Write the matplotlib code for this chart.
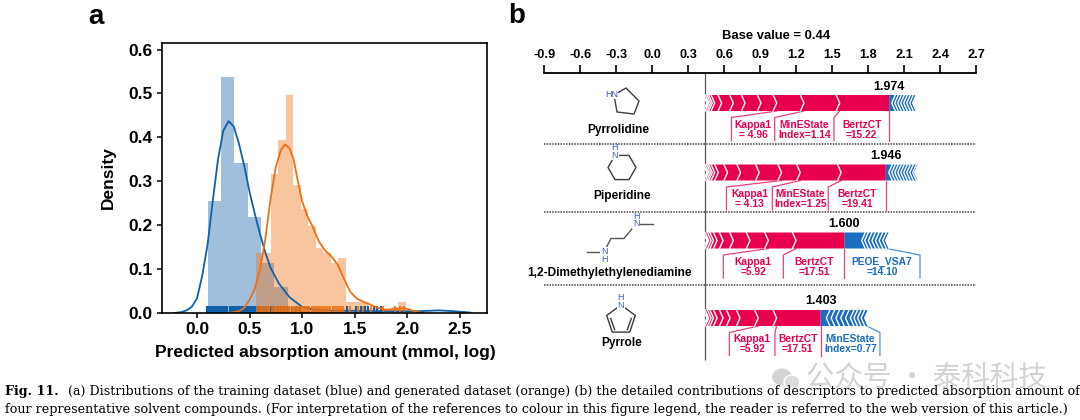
import matplotlib
matplotlib.use("Agg")
import matplotlib.pyplot as plt
from matplotlib.patches import Polygon, Ellipse

plt.rcParams["font.family"] = ["Liberation Sans", "DejaVu Sans"]
plt.rcParams["axes.unicode_minus"] = False

# ---------------- panel a data ----------------
blue_bin_start = 0.102
blue_bin_width = 0.127
blue_hist = [0.255, 0.537, 0.341, 0.218, 0.113, 0.060, 0.014, 0.005,
             0.004, 0.003, 0.003, 0.003, 0.003]

orange_bin_start = 0.557
orange_bin_width = 0.0716
orange_hist = [0.136, 0.136, 0.317, 0.394, 0.497, 0.292, 0.237, 0.198,
               0.147, 0.136, 0.114, 0.126, 0.026, 0.026, 0.026, 0.012,
               0.012, 0.008, 0.014, 0.026]

blue_kde_x = [-0.22, -0.15, -0.10, -0.05, 0.0, 0.05, 0.10, 0.15, 0.20, 0.25,
              0.30, 0.35, 0.40, 0.45, 0.50, 0.55, 0.60, 0.65, 0.70, 0.78,
              0.88, 1.00, 1.10, 1.30, 1.50, 1.70, 1.90, 2.10, 2.30, 2.45, 2.60]
blue_kde_y = [0.0, 0.002, 0.006, 0.014, 0.033, 0.085, 0.155, 0.255, 0.35, 0.415,
              0.437, 0.425, 0.385, 0.335, 0.276, 0.226, 0.18, 0.138, 0.103, 0.067,
              0.036, 0.014, 0.008, 0.005, 0.005, 0.004, 0.004, 0.004, 0.006, 0.004, 0.001]

orange_kde_x = [0.30, 0.40, 0.45, 0.50, 0.55, 0.60, 0.65, 0.70, 0.75, 0.80,
                0.84, 0.88, 0.92, 0.96, 1.00, 1.05, 1.10, 1.16, 1.22, 1.28,
                1.34, 1.40, 1.46, 1.52, 1.58, 1.65, 1.72, 1.78, 1.85, 1.92,
                1.97, 2.03, 2.10, 2.16]
orange_kde_y = [0.0, 0.004, 0.012, 0.03, 0.055, 0.10, 0.168, 0.26, 0.333, 0.372,
                0.384, 0.375, 0.35, 0.30, 0.255, 0.221, 0.197, 0.163, 0.142, 0.129,
                0.11, 0.077, 0.048, 0.033, 0.026, 0.019, 0.012, 0.008, 0.008, 0.010,
                0.011, 0.007, 0.002, 0.0]

blue_rug = [0.10, 0.11, 0.13, 0.14, 0.16, 0.17, 0.19, 0.20, 0.22, 0.23, 0.25,
            0.26, 0.28, 0.29, 0.31, 0.32, 0.34, 0.35, 0.37, 0.38, 0.40, 0.41,
            0.43, 0.44, 0.46, 0.47, 0.49, 0.50, 0.52, 0.53, 0.55, 0.56, 0.58,
            0.60, 0.62, 0.64, 0.66, 0.68, 0.70, 0.72, 0.74, 0.77, 0.80, 0.83,
            0.86, 0.90, 0.94, 0.98, 1.43, 1.51, 1.56, 1.60, 1.63, 1.68, 1.71, 1.75]
orange_rug = [0.57, 0.59, 0.61, 0.62, 0.64, 0.66, 0.68, 0.69, 0.71, 0.73, 0.74,
              0.76, 0.78, 0.79, 0.81, 0.82, 0.84, 0.85, 0.87, 0.88, 0.90, 0.91,
              0.93, 0.95, 0.97, 0.99, 1.01, 1.03, 1.05, 1.07, 1.09, 1.11, 1.13,
              1.15, 1.17, 1.19, 1.21, 1.23, 1.25, 1.27, 1.29, 1.31, 1.33, 1.35,
              1.37, 1.39, 1.46, 1.53, 1.58, 1.66, 1.77, 1.88, 1.93, 1.97]

# ---------------- panel b data ----------------
base_value = 0.44
compounds = ["Pyrrolidine", "Piperidine", "1,2-Dimethylethylenediamine", "Pyrrole"]
outputs = [1.974, 1.946, 1.600, 1.403]
blue_end = [2.197, 2.21, 1.975, 1.80]
red_bounds = [
    [0.455, 0.47, 0.485, 0.50, 0.52, 0.578, 0.675, 0.773, 0.906, 1.037, 1.264, 1.562],
    [0.455, 0.47, 0.485, 0.50, 0.52, 0.55, 0.627, 0.736, 0.891, 1.077, 1.233, 1.574],
    [0.455, 0.47, 0.49, 0.51, 0.54, 0.59, 0.675, 0.814, 0.967, 1.198],
    [0.455, 0.47, 0.49, 0.51, 0.54, 0.59, 0.648, 0.731, 0.883, 1.036],
]
blue_bounds = [
    [1.995, 2.02, 2.045, 2.07, 2.095, 2.12, 2.145, 2.17],
    [1.97, 1.995, 2.02, 2.045, 2.07, 2.095, 2.12, 2.145, 2.17],
    [1.745, 1.77, 1.80, 1.83, 1.86, 1.89, 1.92, 1.945],
    [1.45, 1.49, 1.53, 1.57, 1.61, 1.65, 1.68, 1.71, 1.74, 1.77],
]
box_edges = [
    [0.66, 1.02, 1.514, 1.974],
    [0.618, 1.0, 1.466, 1.946],
    [0.592, 1.092, 1.600, 2.231],
    [0.642, 1.022, 1.403, 1.897],
]
bar_links = [
    [1.037, 1.264, 1.562, 1.974],
    [1.077, 1.233, 1.574, 1.946],
    [0.967, 1.198, 1.600, 1.953],
    [0.883, 1.036, 1.403, 1.787],
]
feature_labels = [
    ["Kappa1\n= 4.96", "MinEState\nIndex=1.14", "BertzCT\n=15.22"],
    ["Kappa1\n= 4.13", "MinEState\nIndex=1.25", "BertzCT\n=19.41"],
    ["Kappa1\n=5.92", "BertzCT\n=17.51", "PEOE_VSA7\n=14.10"],
    ["Kappa1\n=5.92", "BertzCT\n=17.51", "MinEState\nIndex=0.77"],
]
feature_signs = [["+", "+", "+"], ["+", "+", "+"], ["+", "+", "-"], ["+", "+", "-"]]
scale_ticks = [-0.9, -0.6, -0.3, 0.0, 0.3, 0.6, 0.9, 1.2, 1.5, 1.8, 2.1, 2.4, 2.7]

BLUE = "#1060a8"
ORANGE = "#f07010"
RED_B = "#e8004e"
BLUE_B = "#1a6dc0"

fig = plt.figure(figsize=(10.8, 4.2), dpi=100)

# ================= panel a =================
ax = fig.add_axes([162 / 1080, 107 / 420, 325 / 1080, 270 / 420])
blue_left = [blue_bin_start + i * blue_bin_width for i in range(len(blue_hist))]
orange_left = [orange_bin_start + i * orange_bin_width for i in range(len(orange_hist))]

ax.bar(blue_left, blue_hist, width=blue_bin_width, align="edge", color=BLUE, alpha=0.4, linewidth=0)
ax.plot(blue_kde_x, blue_kde_y, color=BLUE, lw=1.3)
ax.vlines(blue_rug, 0, 0.016, color=BLUE, lw=1.5)
ax.bar(orange_left, orange_hist, width=orange_bin_width, align="edge", color=ORANGE, alpha=0.4, linewidth=0)
ax.plot(orange_kde_x, orange_kde_y, color=ORANGE, lw=1.3)
ax.vlines(orange_rug, 0, 0.016, color=ORANGE, lw=1.2)

ax.set_xlim(-0.333, 2.76)
ax.set_ylim(0, 0.615)
ax.set_xticks([0.0, 0.5, 1.0, 1.5, 2.0, 2.5])
ax.set_xticklabels(["0.0", "0.5", "1.0", "1.5", "2.0", "2.5"])
ax.set_yticks([0.0, 0.1, 0.2, 0.3, 0.4, 0.5, 0.6])
ax.set_yticklabels(["0.0", "0.1", "0.2", "0.3", "0.4", "0.5", "0.6"])
ax.tick_params(labelsize=12.5, width=1.1, length=3.5, pad=3)
for lbl in ax.get_xticklabels() + ax.get_yticklabels():
    lbl.set_fontweight("bold")
for sp in ax.spines.values():
    sp.set_linewidth(1.2)
ax.set_xlabel("Predicted absorption amount (mmol, log)", fontsize=12.5, fontweight="bold")
ax.set_ylabel("Density", fontsize=12.5, fontweight="bold")
ax.xaxis.set_label_coords(0.5015, -0.118)
ax.yaxis.set_label_coords(-0.143, 0.5)

# ================= panel b =================
axb = fig.add_axes([505 / 1080, 55 / 420, 575 / 1080, 365 / 420])
axb.set_xlim((505 - 652.3) / 120, (1080 - 652.3) / 120)
axb.set_ylim(365, 0)
axb.patch.set_alpha(0)
for side in ["left", "right", "bottom"]:
    axb.spines[side].set_visible(False)
axb.spines["top"].set_position(("data", 73.3))
axb.spines["top"].set_bounds(-0.9, 2.7)
axb.spines["top"].set_linewidth(1.3)
axb.xaxis.tick_top()
axb.set_xticks(scale_ticks)
axb.set_xticklabels(["%.1f" % t for t in scale_ticks])
axb.tick_params(axis="x", direction="out", length=6, width=1.2, pad=2.5, labelsize=9.2)
for lbl in axb.get_xticklabels():
    lbl.set_fontweight("bold")
axb.set_yticks([])
axb.text(1.03, 36, "Base value = %.2f" % base_value, ha="center", va="center",
         fontsize=9.4, fontweight="bold")

axb.vlines(base_value, 73.3, 360, color="#555555", lw=0.9, zorder=1)
for ysep in [144, 211.5, 285]:
    axb.plot([-0.9, 2.7], [ysep, ysep], color="#444444", lw=1.1, ls=(0, (1, 0.8)), zorder=1)

bar_top = [95, 164.5, 232.5, 310]
bar_h = 16
w = 0.03
for i in range(len(compounds)):
    yt = bar_top[i]
    yb = yt + bar_h
    ym = (yt + yb) / 2
    o = outputs[i]
    e = blue_end[i]
    axb.add_patch(Polygon([(base_value, yt), (o, yt), (o, yb), (base_value, yb), (base_value + w, ym)],
                          closed=True, fc=RED_B, ec="none", zorder=3))
    axb.add_patch(Polygon([(o, yt), (e, yt), (e - w, ym), (e, yb), (o, yb)],
                          closed=True, fc=BLUE_B, ec="none", zorder=3))
    for b in red_bounds[i]:
        axb.plot([b - w, b, b - w], [yt, ym, yb], color="white", lw=1.0, zorder=4)
    for b in blue_bounds[i]:
        axb.plot([b + w, b, b + w], [yt, ym, yb], color="white", lw=1.0, zorder=4)
    axb.text(o, yt - 8.5, "%.3f" % o, ha="center", va="center", fontsize=9, fontweight="bold")

    box_t = yb + 6.5
    box_b = box_t + 23
    for k in range(len(box_edges[i])):
        if k < 3:
            lc = RED_B
        else:
            lc = BLUE_B if feature_signs[i][2] == "-" else RED_B
        axb.plot([bar_links[i][k], box_edges[i][k], box_edges[i][k]], [yb, box_t, box_b],
                 color=lc, lw=0.9, alpha=0.75, zorder=2)
    for j, lab in enumerate(feature_labels[i]):
        tc = RED_B if feature_signs[i][j] == "+" else BLUE_B
        xc = (box_edges[i][j] + box_edges[i][j + 1]) / 2
        axb.text(xc, box_t + 12, lab, ha="center", va="center", fontsize=7.4,
                 fontweight="bold", color=tc, linespacing=1.0)

# ================= overlay: molecules, letters, caption =================
ov = fig.add_axes([0, 0, 1, 1])
ov.set_xlim(0, 1080)
ov.set_ylim(420, 0)
ov.axis("off")

name_pos = [(618, 130), (622, 196), (609, 273), (622, 343)]
for (nx, ny), nm in zip(name_pos, compounds):
    ov.text(nx, ny, nm, ha="center", va="center", fontsize=8.6, fontweight="bold")

bond = dict(color="#3c3c3c", lw=1.0, zorder=2)
ncol = "#3a5bc7"
nbox = dict(fc="white", ec="none", pad=0.2)
nfs = 6.5

# pyrrolidine
ring = [(614, 95), (626, 88), (639, 101), (634, 114), (617, 112), (614, 95)]
ov.plot([p[0] for p in ring], [p[1] for p in ring], **bond)
ov.text(618, 94.5, "HN", ha="right", va="center", fontsize=nfs, color=ncol, bbox=nbox, zorder=3)

# piperidine
hexa = [(615, 155.4), (629, 155.4), (636, 167.5), (629, 179.6), (615, 179.6), (608, 167.5), (615, 155.4)]
ov.plot([p[0] for p in hexa], [p[1] for p in hexa], **bond)
ov.text(615, 155.4, "N", ha="center", va="center", fontsize=nfs, color=ncol, bbox=nbox, zorder=3)
ov.text(615, 148.0, "H", ha="center", va="center", fontsize=nfs, color=ncol, zorder=3)

# 1,2-dimethylethylenediamine
grey = dict(color="#555555", lw=1.0, zorder=2)
ov.plot([640, 653], [224, 224], **grey)
ov.plot([636, 624, 611, 604], [224, 238.5, 238.5, 252], **grey)
ov.plot([587, 600], [252, 252], **grey)
for (nx, ny, hy) in [(636, 224, 216.5), (604, 252, 259.5)]:
    ov.text(nx, ny, "N", ha="center", va="center", fontsize=nfs, color=ncol, bbox=nbox, zorder=3)
    ov.text(nx, hy, "H", ha="center", va="center", fontsize=nfs, color=ncol, zorder=3)

# pyrrole
pent = [(621, 305), (635.3, 315.4), (629.8, 332.1), (612.2, 332.1), (606.7, 315.4), (621, 305)]
ov.plot([p[0] for p in pent], [p[1] for p in pent], **bond)
ov.plot([631.3, 627.4], [318.5, 329.5], **bond)
ov.plot([610.7, 614.6], [318.5, 329.5], **bond)
ov.text(621, 305, "N", ha="center", va="center", fontsize=nfs, color=ncol, bbox=nbox, zorder=3)
ov.text(621, 297, "H", ha="center", va="center", fontsize=nfs, color=ncol, zorder=3)

# panel letters
ov.text(96, 17, "a", ha="center", va="center", fontsize=20, fontweight="bold")
ov.text(517, 16, "b", ha="center", va="center", fontsize=20, fontweight="bold")

# watermark
ov.add_patch(Ellipse((782, 377), 20, 17, fc="#d4d4d4", ec="none", zorder=0))
ov.add_patch(Ellipse((792, 382), 16, 14, fc="#dcdcdc", ec="white", lw=1, zorder=0))
ov.text(806, 378, "公众号 · 泰科科技", ha="left", va="center", fontsize=20.5,
        color="#d2d2d2", family=["Noto Sans CJK SC", "DejaVu Sans"], zorder=0)

# caption
renderer = fig.canvas.get_renderer()
cap_bold = "Fig. 11."
cap_rest = ("(a) Distributions of the training dataset (blue) and generated dataset (orange) "
            "(b) the detailed contributions of descriptors to predicted absorption amount of")
cap_line2 = ("four representative solvent compounds. (For interpretation of the references to "
             "colour in this figure legend, the reader is referred to the web version of this article.)")
serif = ["DejaVu Serif"]
t2 = ov.text(5, 409, cap_line2, ha="left", va="center", fontsize=10, family=serif, zorder=5)
wpx = t2.get_window_extent(renderer).width
fs = 10 * 1068 / wpx
t2.set_fontsize(fs)
tb = ov.text(5, 391, cap_bold, ha="left", va="center", fontsize=fs, family=serif,
             fontweight="bold", zorder=5)
wb = tb.get_window_extent(renderer).width
tr = ov.text(5 + wb + 9, 391, cap_rest, ha="left", va="center", fontsize=fs, family=serif, zorder=5)
wr = tr.get_window_extent(renderer).width
tr.set_fontsize(fs * (1075 - (5 + wb + 9)) / wr)

fig.savefig("out.png", dpi=100)
plt.close(fig)
